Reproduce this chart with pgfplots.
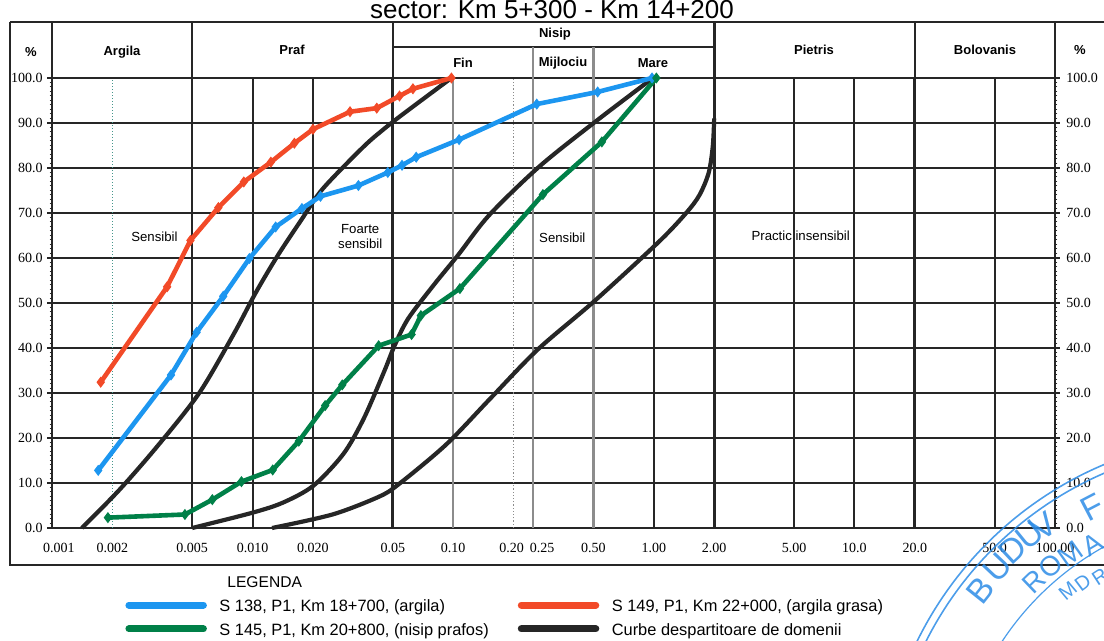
\documentclass[border=0pt]{standalone}
\usepackage{fontspec}
\setmainfont{Liberation Serif}
\newfontfamily\arial{Liberation Sans}
\usepackage{pgfplots}
\usepackage{pgfplotstable}
\pgfplotsset{compat=1.18}
\definecolor{cblue}{RGB}{28,150,240}
\definecolor{cred}{RGB}{242,74,40}
\definecolor{cgreen}{RGB}{0,128,72}
\definecolor{cblack}{RGB}{38,38,38}
\definecolor{cgray}{RGB}{140,140,140}
\definecolor{cteal}{RGB}{70,150,140}
\definecolor{stampblue}{RGB}{45,140,230}

\pgfplotstableread{
d p
0.0017 12.8
0.00392 34.0
0.00526 43.5
0.00714 51.5
0.00964 59.9
0.01303 66.9
0.01762 71.0
0.0218 73.7
0.0337 76.1
0.0472 79.0
0.0556 80.6
0.0654 82.4
0.107 86.3
0.261 94.2
0.525 96.9
0.98 100
}\tblue
\pgfplotstableread{
d p
0.00175 32.4
0.00375 53.6
0.0049 63.9
0.00675 71.2
0.00904 76.9
0.01233 81.3
0.01616 85.5
0.0200 88.6
0.0306 92.5
0.0416 93.3
0.054 96.0
0.063 97.6
0.098 100
}\tred
\pgfplotstableread{
d p
0.0019 2.3
0.0046 3.0
0.0063 6.3
0.0088 10.3
0.0126 12.9
0.0170 19.3
0.0230 27.2
0.0280 31.8
0.0425 40.5
0.062 43.0
0.069 47.2
0.108 53.2
0.28 74.1
0.551 85.8
1.03 100
}\tgreen
\pgfplotstableread{
d p
0.00141 0
0.00217 8.5
0.0034 18.5
0.00542 30.0
0.00803 43.0
0.01037 52.3
0.01337 60.6
0.01758 68.6
0.0223 75.3
0.0355 84.6
0.0447 88.5
0.0544 91.5
0.0683 94.8
0.098 100
}\tbA
\pgfplotstableread{
d p
0.005 0
0.0098 3.3
0.0141 5.6
0.0201 9.4
0.0284 16.5
0.0359 24.4
0.0453 34.8
0.051 40.5
0.0596 46.5
0.080 54.0
0.106 60.7
0.151 69.5
0.27 80.4
0.522 90.6
0.99 100
}\tbB
\pgfplotstableread{
d p
0.0125 0
0.0250 3.0
0.0424 6.9
0.0534 9.7
0.092 18.5
0.1526 28.7
0.263 39.6
0.508 50.5
1.06 63.6
1.45 70.0
1.69 74.0
1.88 79.0
1.97 85.0
2.0 91.0
}\tbC

\begin{document}
\begin{tikzpicture}
\begin{axis}[name=ax, scale only axis, width=501.5pt, height=225pt,
  xmode=log, xmin=0.001, xmax=100, ymin=0, ymax=100, clip=false,
  axis line style={cblack, line width=1.1pt},
  xtick={0.001,0.002,0.005,0.01,0.02,0.05,0.1,0.2,0.25,0.5,1,2,5,10,20,50,100},
  xticklabels={\hspace*{7pt}0.001,0.002,0.005,0.010,0.020,0.05,0.10,0.20\hspace*{2pt},\hspace*{9pt}0.25,0.50,1.00,2.00,5.00,10.0,20.0,50.0,100.00},
  minor x tick num=0, x tick style={draw=none}, xtick pos=bottom,
  xticklabel style={font=\fontsize{7}{8}\selectfont, inner sep=0pt, yshift=-5pt},
  ytick={0,10,...,100},
  yticklabels={0.0,10.0,20.0,30.0,40.0,50.0,60.0,70.0,80.0,90.0,100.0},
  ytick pos=left, minor y tick num=9,
  yticklabel style={font=\fontsize{7}{8}\selectfont, inner sep=0pt, xshift=-2pt},
  tick align=outside, major tick length=2.5pt, minor tick length=1.2pt,
  y tick style={cblack, line width=0.8pt},
  minor y tick style={line width=0.5pt},
  ymajorgrids, major grid style={cblack, line width=1pt},
  legend columns=2, legend cell align=left,
  legend style={at={(axis description cs:0.0439,-0.1578)}, anchor=north west,
    draw=none, fill=none, inner sep=0pt,
    font=\arial\fontsize{8.2}{9}\selectfont, row sep=4.5pt,
    nodes={inner sep=0pt}},
  legend image code/.code={\path[draw=none, fill=none] (-14.5pt,0pt) -- (47pt,0pt);\draw[line width=3.5pt, line cap=round] (1.75pt,0.9pt) -- (39pt,0.9pt);},
]
% vertical grid lines
\draw[cteal, line width=0.5pt, densely dotted] (axis cs:0.002,0) -- (axis cs:0.002,100);
\foreach \v in {0.005,0.01,0.02,5,10,50}{\edef\tmp{\noexpand\draw[cblack, line width=1pt] (axis cs:\v,0) -- (axis cs:\v,100);}\tmp}
\foreach \v in {0.05,2,20}{\edef\tmp{\noexpand\draw[cblack, line width=1.5pt] (axis cs:\v,0) -- (axis cs:\v,100);}\tmp}
\draw[cblack, line width=1.2pt] (axis cs:1,0) -- (axis cs:1,100);
\foreach \v in {0.1,0.25,0.5}{\edef\tmp{\noexpand\draw[cgray, line width=1.1pt] (axis cs:\v,0) -- (axis cs:\v,100);}\tmp}
\draw[cgray, line width=0.6pt, densely dotted] (axis cs:0.2,0) -- (axis cs:0.2,100);

% domain boundary curves
\addplot[cblack, line width=2.1pt, smooth, forget plot] table {\tbA};
\addplot[cblack, line width=2.1pt, smooth, forget plot] table {\tbB};
\addplot[cblack, line width=2.1pt, smooth, forget plot] table {\tbC};

% samples
\addplot[cblue, line width=2.3pt, mark=diamond*, mark size=2.4pt, mark options={solid, fill=cblue, line width=0.5pt}] table {\tblue};
\addlegendentry{S 138, P1, Km 18+700, (argila)}
\addplot[cred, line width=2.3pt, mark=diamond*, mark size=2.4pt, mark options={solid, fill=cred, line width=0.5pt}] table {\tred};
\addlegendentry{S 149, P1, Km 22+000, (argila grasa)}
\addplot[cgreen, line width=2.3pt, mark=diamond*, mark size=2.4pt, mark options={solid, fill=cgreen, line width=0.5pt}] table {\tgreen};
\addlegendentry{S 145, P1, Km 20+800, (nisip prafos)}
\addlegendimage{cblack}
\addlegendentry{Curbe despartitoare de domenii}

% zone labels
\node[font=\arial\fontsize{6.6}{7}\selectfont] at (axis cs:0.00324,64.8) {Sensibil};
\node[font=\arial\fontsize{6.6}{7.4}\selectfont, align=center] at (axis cs:0.0344,64.8) {Foarte\\sensibil};
\node[font=\arial\fontsize{6.6}{7}\selectfont] at (axis cs:0.35,64.4) {Sensibil};
\node[font=\arial\fontsize{6.6}{7}\selectfont] at (axis cs:5.4,64.9) {Practic insensibil};
\end{axis}

\begin{axis}[at={(ax.south west)}, anchor=south west, scale only axis,
  width=501.5pt, height=225pt, xmode=log, xmin=0.001, xmax=100, ymin=0, ymax=100,
  hide x axis, axis y line*=right,
  axis line style={cblack, line width=1.1pt},
  ytick={0,10,...,100},
  yticklabels={0.0,10.0,20.0,30.0,40.0,50.0,60.0,70.0,80.0,90.0,100.0},
  minor y tick num=9,
  yticklabel style={font=\fontsize{7}{8}\selectfont, inner sep=0pt, xshift=3pt},
  tick align=outside, major tick length=2.5pt, minor tick length=1.2pt,
  y tick style={cblack, line width=0.8pt}, minor y tick style={line width=0.5pt}]
\addplot[draw=none, forget plot] coordinates {(1,50)};
\end{axis}

\begin{scope}[shift={(ax.south west)}, xshift=-26pt, yshift=264pt, x=0.5pt, y=-0.5pt]
% frame
\draw[cblack, line width=1.3pt] (10,22) -- (1110,22);
\draw[cblack, line width=1.3pt] (10,22) -- (10,565) -- (1110,565);
% header
\draw[cblack, line width=1.1pt] (52,22) -- (52,78);
\draw[cblack, line width=1.1pt] (192.2,22) -- (192.2,78);
\draw[cblack, line width=1.3pt] (392.8,22) -- (392.8,78);
\draw[cblack, line width=1.3pt] (714.2,22) -- (714.2,78);
\draw[cblack, line width=1.3pt] (914.8,22) -- (914.8,78);
\draw[cblack, line width=1.1pt] (1055,22) -- (1055,78);
\draw[cblack, line width=1.1pt] (392.8,47) -- (714.2,47);
\draw[cgray, line width=1.1pt] (533,47) -- (533,78);
\draw[cgray, line width=1.1pt] (593.4,47) -- (593.4,78);
\begin{scope}[every node/.style={font=\arial\bfseries\fontsize{6.5}{7}\selectfont, inner sep=0pt}]
\node at (31,52) {\%};
\node at (122,52) {Argila};
\node at (292,50) {Praf};
\node at (555,34) {Nisip};
\node at (463,63) {Fin};
\node at (563,63) {Mijlociu};
\node at (653,63) {Mare};
\node at (814,50) {Pietris};
\node at (985,50) {Bolovanis};
\node at (1080,50) {\%};
\end{scope}
% title
\node[anchor=base, font=\arial\fontsize{13}{15}\selectfont, inner sep=0pt] at (552,19) {sector: Km 5+300 - Km 14+200};
% legend title
\node[anchor=west, font=\arial\fontsize{7.8}{9}\selectfont, inner sep=0pt] at (227,582) {LEGENDA};
% stamp
\begin{scope}[shift={(623pt,-401pt)}, x=0.5pt, y=0.5pt, stampblue, opacity=0.85]
\draw[line width=0.8pt] (0,0) circle (183pt);
\draw[line width=0.8pt] (0,0) circle (179pt);
\draw[line width=0.6pt] (0,0) circle (146pt);
\begin{scope}[every node/.style={font=\arial\fontsize{17}{18}\selectfont, inner sep=0pt}]
\node[rotate=51.4] at (141.4:170pt) {B};
\node[rotate=46.7] at (136.7:171pt) {U};
\node[rotate=42.8] at (132.8:172pt) {D};
\node[rotate=39.0] at (129.0:172pt) {U};
\node[rotate=36.2] at (126.2:171pt) {V};
\node[rotate=27.6] at (117.6:166pt) {F};
\end{scope}
\begin{scope}[every node/.style={font=\arial\fontsize{14}{15}\selectfont, inner sep=0pt}]
\node[rotate=43.8] at (133.8:153pt) {R};
\node[rotate=39.6] at (129.6:153pt) {O};
\node[rotate=35.3] at (125.3:152pt) {M};
\node[rotate=30.8] at (120.8:150pt) {A};
\end{scope}
\begin{scope}[every node/.style={font=\arial\fontsize{10}{11}\selectfont, inner sep=0pt}]
\node[rotate=40.2] at (130.2:138pt) {M};
\node[rotate=36.7] at (126.7:136.5pt) {D};
\node[rotate=33.0] at (123.0:134pt) {R};
\end{scope}
\end{scope}
\pgfresetboundingbox
\path[use as bounding box] (0,0) rectangle (1104,641);
\end{scope}
\end{tikzpicture}
\end{document}
